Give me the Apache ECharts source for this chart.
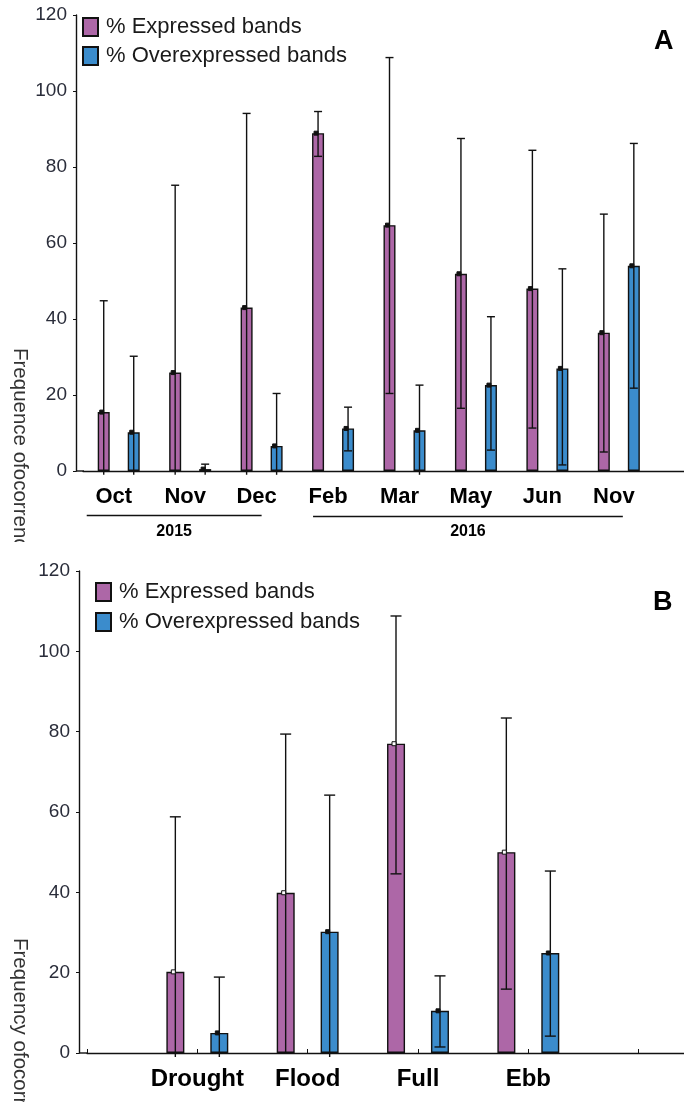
<!DOCTYPE html>
<html>
<head>
<meta charset="utf-8">
<script src="https://cdn.jsdelivr.net/npm/echarts@6/dist/echarts.min.js"></script>
<style>
  html, body { margin: 0; background: #fff; overflow: hidden; width: 684px; height: 1102px; }
  /* both charts run a bit past the right edge, like the cropped original */
  #chartA { position: absolute; left: 0; top: 0; width: 726px; height: 542px; }
  #chartB { position: absolute; left: 0; top: 542px; width: 752px; height: 560px; }
</style>
</head>
<body>
<div id="chartA"></div>
<div id="chartB"></div>
<script>
// panel A: sampling months
var monthsA = ['Oct', 'Nov', 'Dec', 'Feb', 'Mar', 'May', 'Jun', 'Nov']
var expA = [15.5, 25.9, 43, 88.9, 64.7, 51.9, 48, 36.4]
var expALow = [-1, -1, -1, 82.8, 20.4, 16.5, 11.3, 5]
var expAHigh = [44.8, 75.2, 94.1, 94.6, 108.8, 87.5, 84.4, 67.6]
var overA = [10.2, 0.5, 6.6, 11.2, 10.7, 22.6, 27, 54]
var overALow = [-1, -1, -1, 5.3, -1, 5.5, 1.6, 21.8]
var overAHigh = [30.2, 1.8, 20.4, 16.8, 22.6, 40.6, 53.2, 86.2]
var yearsA = ['2015', '2016']

// panel B: hydrological phases
var phasesB = ['Drought', 'Flood', 'Full', 'Ebb']
var expB = [20.2, 39.9, 77, 50]
var expBLow = [-1, 0, 44.6, 15.9]
var expBHigh = [58.8, 79.4, 108.8, 83.4]
var overB = [5, 30.2, 10.5, 24.9]
var overBLow = [-1, -1, 1.5, 4.2]
var overBHigh = [18.9, 64.2, 19.2, 45.3]

var yTicks = [0, 20, 40, 60, 80, 100, 120]

var PINK = '#ad67a7'
var BLUE = '#3b8ccc'
var INK = '#111'
var FONT = '"Liberation Sans", Arial, sans-serif'

// error bar + mean marker, drawn next to the bar through the axis scales
function errorBars(offset, capW, markFill) {
  return function (params, api) {
    var idx = api.value(0)
    var x = api.coord([idx, 0])[0] + offset
    var yLo = api.coord([idx, api.value(1)])[1]
    var yHi = api.coord([idx, api.value(2)])[1]
    var yMean = api.coord([idx, api.value(3)])[1]
    var st = { stroke: INK, lineWidth: 1.4 }
    var kids = [
      { type: 'line', shape: { x1: x, y1: yLo, x2: x, y2: yHi }, style: st },
      { type: 'line', shape: { x1: x - capW / 2, y1: yHi, x2: x + capW / 2, y2: yHi }, style: st }
    ]
    if (api.value(1) >= 0) {
      kids.push({ type: 'line', shape: { x1: x - capW / 2, y1: yLo, x2: x + capW / 2, y2: yLo }, style: st })
    }
    kids.push({
      type: 'rect',
      shape: { x: x - 4, y: yMean - 2, width: 4, height: 4 },
      style: { fill: markFill, stroke: INK, lineWidth: 1 }
    })
    return { type: 'group', children: kids }
  }
}

function errData(low, high, mean, shift) {
  return mean.map(function (m, i) {
    return [i + shift, low[i], high[i], m]
  })
}

function pad(arr, before, after) {
  var out = []
  for (var i = 0; i < before; i++) out.push('-')
  out = out.concat(arr)
  for (var j = 0; j < after; j++) out.push('-')
  return out
}

function baseOption(cfg) {
  return {
    animation: false,
    textStyle: { fontFamily: FONT },
    title: {
      text: cfg.letter,
      left: cfg.letterLeft,
      top: cfg.letterTop,
      padding: 0,
      textStyle: { fontSize: 27, fontWeight: 'bold', color: '#000', fontFamily: FONT }
    },
    legend: {
      orient: 'vertical',
      left: cfg.legendLeft,
      top: cfg.legendTop,
      padding: 0,
      icon: 'rect',
      itemWidth: 15,
      itemHeight: 18,
      itemGap: cfg.legendGap,
      data: ['% Expressed bands', '% Overexpressed bands'],
      textStyle: { fontSize: 22, color: '#1a1a1a', fontFamily: FONT, padding: [0, 0, 0, 3] }
    },
    grid: { left: cfg.left, right: 0, top: cfg.top, bottom: cfg.bottom },
    xAxis: {
      type: 'category',
      data: cfg.cats,
      boundaryGap: cfg.boundaryGap,
      axisLine: { lineStyle: { color: INK, width: 1.4 } },
      axisTick: { alignWithLabel: true, inside: true, length: 4, lineStyle: { color: INK } },
      axisLabel: {
        interval: 0,
        margin: cfg.labelMargin,
        formatter: function (v) { return v ? '{v|' + v + '}' : '' },
        rich: {
          v: {
            fontSize: cfg.labelSize,
            fontWeight: 'bold',
            color: '#000',
            fontFamily: FONT,
            padding: [0, cfg.labelShift, 0, 0]
          }
        }
      },
      splitLine: { show: false }
    },
    yAxis: {
      type: 'value',
      min: yTicks[0],
      max: yTicks[yTicks.length - 1],
      interval: 20,
      offset: cfg.yOffset,
      axisLine: { show: true, lineStyle: { color: INK, width: 1.4 } },
      axisTick: { show: true, length: 3, lineStyle: { color: INK } },
      axisLabel: { fontSize: 19, color: '#2a2d3a', margin: 9, fontFamily: FONT },
      splitLine: { show: false }
    },
    series: [
      {
        name: '% Expressed bands',
        type: 'bar',
        barWidth: cfg.barWidth,
        barGap: cfg.barGap,
        itemStyle: { color: PINK, borderColor: INK, borderWidth: 1.4 },
        data: cfg.exp
      },
      {
        name: '% Overexpressed bands',
        type: 'bar',
        barWidth: cfg.barWidth,
        barGap: cfg.barGap,
        itemStyle: { color: BLUE, borderColor: INK, borderWidth: 1.4 },
        data: cfg.over
      },
      {
        type: 'custom',
        z: 5,
        renderItem: errorBars(-cfg.barOffset, cfg.capW, cfg.markPink),
        data: cfg.expErr
      },
      {
        type: 'custom',
        z: 5,
        renderItem: errorBars(cfg.barOffset, cfg.capW, INK),
        data: cfg.overErr
      }
    ]
  }
}

// ---------- panel A ----------
var chartA = echarts.init(document.getElementById('chartA'))
chartA.setOption(baseOption({
  letter: 'A', letterLeft: 654, letterTop: 28,
  legendLeft: 82, legendTop: 16, legendGap: 7,
  left: 83, top: 15, bottom: 71,
  cats: monthsA.concat(['']),
  boundaryGap: true,
  labelMargin: 15, labelSize: 22, labelShift: 10,
  yOffset: 7,
  barWidth: 12, barGap: '150%', barOffset: 15, capW: 8,
  markPink: INK,
  exp: pad(expA, 0, 1),
  over: pad(overA, 0, 1),
  expErr: errData(expALow, expAHigh, expA, 0),
  overErr: errData(overALow, overAHigh, overA, 0)
}))

// ---------- panel B ----------
var chartB = echarts.init(document.getElementById('chartB'))
chartB.setOption(baseOption({
  letter: 'B', letterLeft: 653, letterTop: 47,
  legendLeft: 95, legendTop: 39, legendGap: 8,
  left: 87, top: 29, bottom: 49,
  cats: [''].concat(phasesB, ['', '']),
  boundaryGap: false,
  labelMargin: 14, labelSize: 24, labelShift: 0,
  yOffset: 8,
  barWidth: 18, barGap: '144%', barOffset: 22, capW: 11,
  markPink: '#fff',
  exp: pad(expB, 1, 2),
  over: pad(overB, 1, 2),
  expErr: errData(expBLow, expBHigh, expB, 1),
  overErr: errData(overBLow, overBHigh, overB, 1)
}))

// decorations: axis corner joins, year brackets, y axis titles
function yTitle(text, x, y) {
  return {
    type: 'text',
    x: x, y: y,
    rotation: -Math.PI / 2,
    style: { text: text, fontSize: 20.5, fill: '#333', fontFamily: FONT, textVerticalAlign: 'middle' }
  }
}

function yearText(text, x) {
  return {
    type: 'text', x: x, y: 532,
    style: { text: text, fontSize: 16, fontWeight: 'bold', fill: '#000', fontFamily: FONT, textAlign: 'center', textVerticalAlign: 'middle' }
  }
}

var yA = Math.round(chartA.convertToPixel({ xAxisIndex: 0, yAxisIndex: 0 }, [0, 0])[1])
var pxA = monthsA.map(function (m, i) {
  return chartA.convertToPixel({ xAxisIndex: 0 }, i)
})
var y15 = [pxA[0] - 32, pxA[2]]
var y16 = [pxA[3] - 20, pxA[7] + 4]
chartA.setOption({
  graphic: [
    { type: 'line', shape: { x1: 76, y1: yA, x2: 84, y2: yA }, style: { stroke: INK, lineWidth: 1.4 } },
    { type: 'line', shape: { x1: y15[0], y1: 515.5, x2: y15[1], y2: 515.5 }, style: { stroke: INK, lineWidth: 1.3 } },
    { type: 'line', shape: { x1: y16[0], y1: 516.5, x2: y16[1], y2: 516.5 }, style: { stroke: INK, lineWidth: 1.3 } },
    yearText(yearsA[0], (y15[0] + y15[1]) / 2),
    yearText(yearsA[1], (y16[0] + y16[1]) / 2),
    yTitle('Frequence ofocorrence', 20, 348)
  ]
})

var yB = Math.round(chartB.convertToPixel({ xAxisIndex: 0, yAxisIndex: 0 }, [0, 0])[1])
chartB.setOption({
  graphic: [
    { type: 'line', shape: { x1: 79, y1: yB, x2: 88, y2: yB }, style: { stroke: INK, lineWidth: 1.4 } },
    yTitle('Frequency ofocorrence', 20, 396)
  ]
})
</script>
</body>
</html>
